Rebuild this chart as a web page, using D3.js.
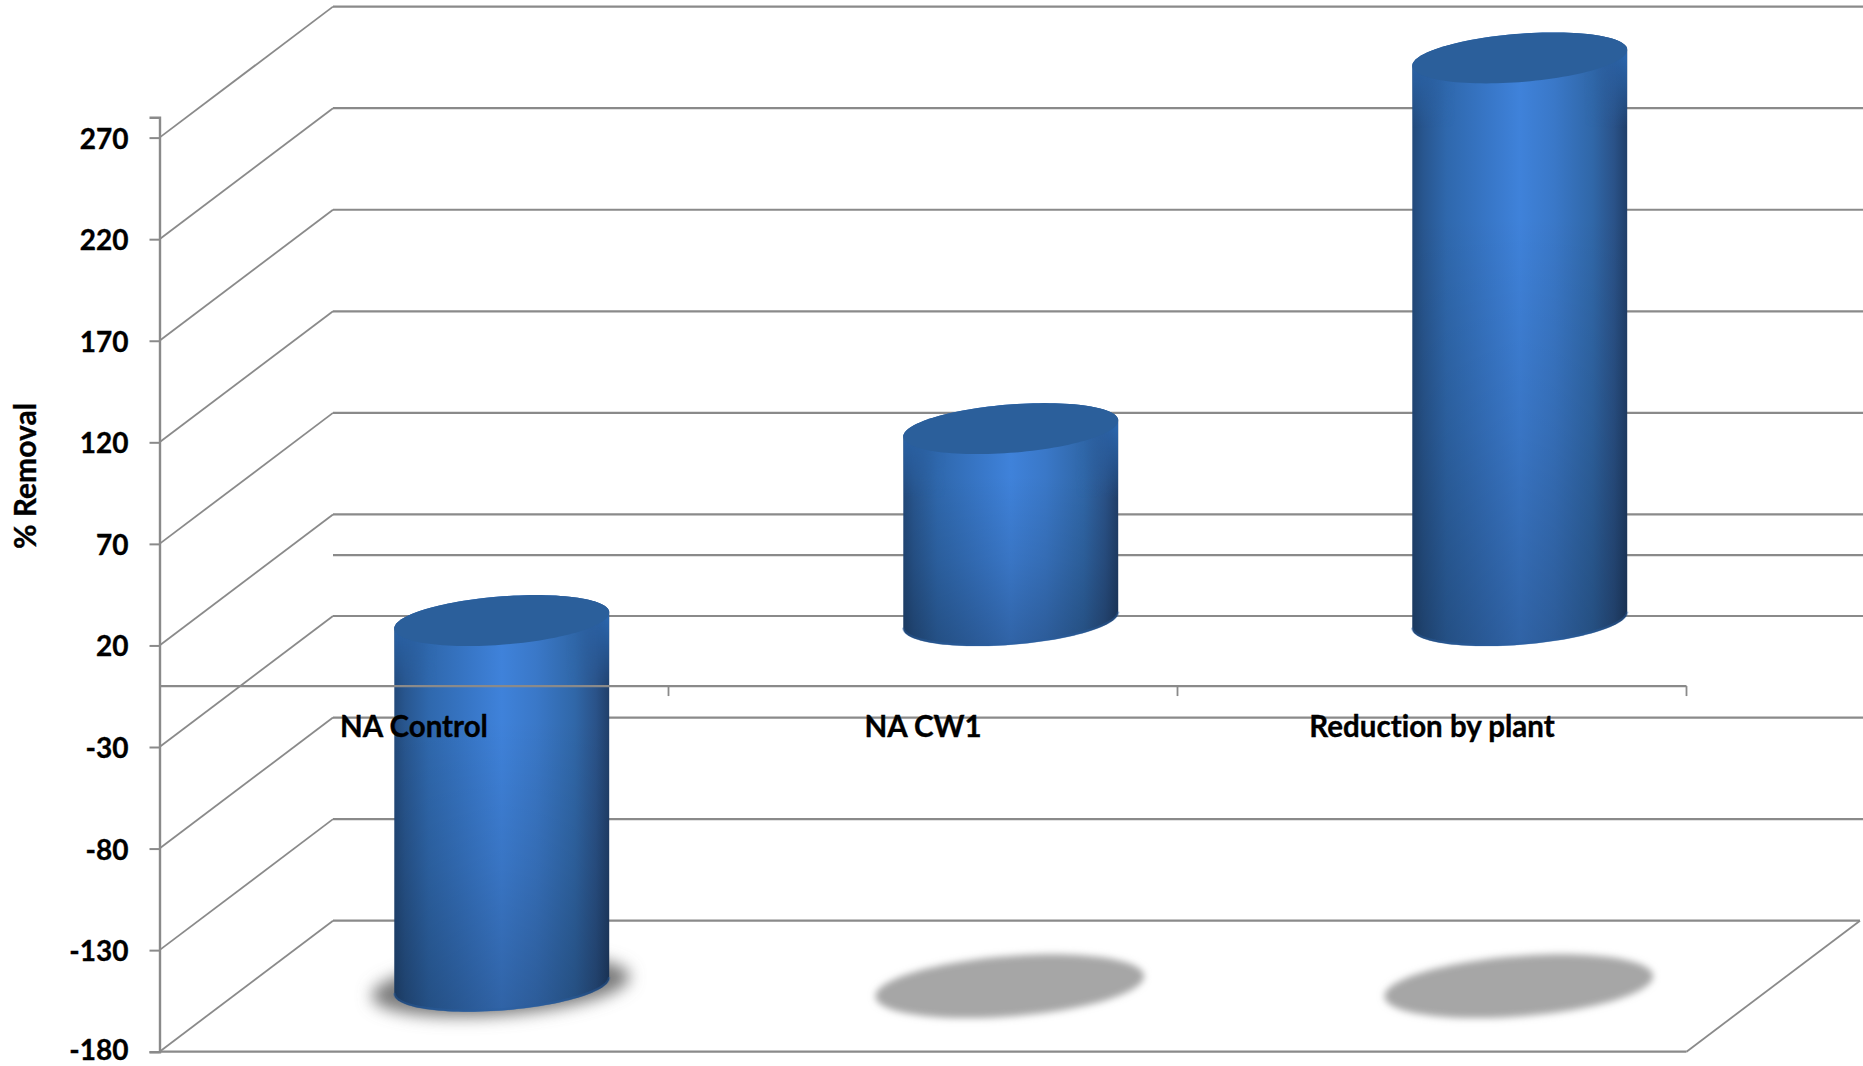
<!DOCTYPE html>
<html>
<head>
<meta charset="utf-8">
<script src="https://cdn.jsdelivr.net/npm/d3@7"></script>
<style>
  html, body { margin: 0; padding: 0; background: #fff; overflow: hidden; }
  text { font-family: Lato, "Open Sans", sans-serif; font-weight: 700; fill: #000; stroke: #000; stroke-width: 0.35; font-variant-ligatures: none; }
  .grid { fill: none; stroke: #8a8a8a; stroke-width: 2.2; }
  .side { fill: none; stroke: #8a8a8a; stroke-width: 1.8; }
</style>
</head>
<body>
<script>
const categories = ["NA Control", "NA CW1", "Reduction by plant"];
const removal = [-180, 94.5, 277];
const yTicks = [270, 220, 170, 120, 70, 20, -30, -80, -130, -180];

const width = 1863, height = 1066;
// how far the back wall is shifted from the front plane
const depthX = 173.5, depthY = 131;
const capH = 25.5, capP = 102;
const capQ = capH * depthX / depthY;
const capT = Math.atan2(capQ, capP);

const svg = d3.select("body").append("svg")
  .attr("width", width)
  .attr("height", height)
  .style("display", "block");

const y = d3.scaleLinear().domain([-180, 280]).range([1051.7, 117.3]);
const x = d3.scaleBand().domain(categories).range([159.5, 1686.5]);

const defs = svg.append("defs");

// round side of the cylinders
const sideGrad = defs.append("linearGradient").attr("id", "side");
[[0, "#22497a"], [0.05, "#28568f"], [0.16, "#2f68ad"], [0.36, "#3877c8"], [0.5, "#3f82da"],
 [0.66, "#3a78c8"], [0.84, "#3067a8"], [0.94, "#2a5288"], [1, "#203f6a"]]
  .forEach(s => sideGrad.append("stop").attr("offset", s[0]).attr("stop-color", s[1]));

const shade = defs.append("linearGradient").attr("id", "shade")
  .attr("x1", 0).attr("x2", 0).attr("y1", 0).attr("y2", 1);
[[0, 0], [0.3, 0], [0.65, 0.1], [1, 0.24]]
  .forEach(s => shade.append("stop").attr("offset", s[0]).attr("stop-color", "#000").attr("stop-opacity", s[1]));

// keeps the rim tint to the left and right edges of a cylinder
const edgeFade = defs.append("linearGradient").attr("id", "edgeFade");
[[0, "#fff"], [0.2, "#000"], [0.8, "#000"], [1, "#fff"]]
  .forEach(s => edgeFade.append("stop").attr("offset", s[0]).attr("stop-color", s[1]));
defs.append("mask").attr("id", "edges")
  .attr("maskContentUnits", "objectBoundingBox")
  .append("rect").attr("width", 1).attr("height", 1).attr("fill", "url(#edgeFade)");

const softFilter = (id, dev) => defs.append("filter").attr("id", id)
  .attr("x", "-20%").attr("y", "-50%").attr("width", "140%").attr("height", "200%")
  .append("feGaussianBlur").attr("stdDeviation", dev);
softFilter("soft", 3.5);
softFilter("softer", 8);

const line = d3.line();

function capPoint(cx, cy, t, k = 1) {
  return [cx + k * (capP * Math.cos(t) + capQ * Math.sin(t)), cy - k * capH * Math.sin(t)];
}

function capPath(cx, cy, k = 1) {
  return line(d3.range(0, 360, 3).map(a => capPoint(cx, cy, a * Math.PI / 180, k))) + "Z";
}

function lowerArc(cx, cyBase) {
  return d3.range(0, 61).map(i => capPoint(cx, cyBase, capT - Math.PI + i * Math.PI / 60));
}

function bodyPath(cx, yTop, yBase) {
  const upper = d3.range(0, 61).map(i => capPoint(cx, yTop, capT + i * Math.PI / 60));
  return line(lowerArc(cx, yBase).concat(upper)) + "Z";
}

const bandMid = c => x(c) + x.bandwidth() / 2;

// back wall
svg.append("g").selectAll("line").data(yTicks).enter().append("line")
  .attr("class", "grid")
  .attr("x1", 159.5 + depthX)
  .attr("x2", d => d === -180 ? 159.5 + depthX + 1527 : width)
  .attr("y1", d => y(d) - depthY)
  .attr("y2", d => y(d) - depthY);

svg.append("line").attr("class", "grid")
  .attr("x1", 159.5 + depthX).attr("x2", width)
  .attr("y1", y(0) - depthY).attr("y2", y(0) - depthY);

// side wall
svg.append("g").selectAll("line").data(yTicks).enter().append("line")
  .attr("class", "side")
  .attr("x1", 159.5).attr("x2", 159.5 + depthX)
  .attr("y1", d => y(d)).attr("y2", d => y(d) - depthY);

// floor edge on the right
svg.append("line").attr("class", "side")
  .attr("x1", 1686.5).attr("x2", 1686.5 + depthX)
  .attr("y1", y(-180)).attr("y2", y(-180) - depthY);

const bar = categories.map((c, i) => ({ c, v: removal[i] }));
const midX = d => bandMid(d.c) + depthX / 2 + 1;
const topY = d => y(Math.max(d.v, 0)) - depthY / 2;
const baseY = d => y(Math.min(d.v, 0)) - depthY / 2;
const onFloor = d => d.v <= -180;

// floor shadows, the one under a cylinder standing on the floor is softer
svg.append("g").selectAll("path").data(bar).enter().append("path")
  .attr("d", d => capPath(midX(d) - 1, y(-180) - depthY / 2, onFloor(d) ? 1.2 : 1.25))
  .attr("fill", d => onFloor(d) ? "#7c7c7c" : "#a6a6a6")
  .attr("filter", d => onFloor(d) ? "url(#softer)" : "url(#soft)");

// cylinders
const bars = svg.append("g").selectAll("g").data(bar).enter().append("g");

bars.append("path")
  .attr("d", d => bodyPath(midX(d), topY(d), baseY(d)))
  .attr("fill", "url(#side)");

bars.append("path")
  .attr("d", d => bodyPath(midX(d), topY(d), baseY(d)))
  .attr("fill", "url(#shade)");

// lighter blue where the side meets the cap
bars.each(function (d, i) {
  const glow = defs.append("linearGradient").attr("id", "glow" + i)
    .attr("gradientUnits", "userSpaceOnUse")
    .attr("x1", 0).attr("x2", 0)
    .attr("y1", topY(d)).attr("y2", topY(d) + 70);
  glow.append("stop").attr("offset", 0).attr("stop-color", "#2b66ad").attr("stop-opacity", 1);
  glow.append("stop").attr("offset", 1).attr("stop-color", "#2b66ad").attr("stop-opacity", 0);
  d3.select(this).append("g").attr("mask", "url(#edges)")
    .append("path")
    .attr("d", bodyPath(midX(d), topY(d), baseY(d)))
    .attr("fill", `url(#glow${i})`);
});

// blue rim along the bottom of each cylinder
bars.append("path")
  .attr("d", d => line(lowerArc(midX(d), baseY(d) - 1)))
  .attr("fill", "none")
  .attr("stroke", "#2a5f9f")
  .attr("stroke-width", 2.5)
  .attr("stroke-opacity", 0.4);

bars.append("path")
  .attr("d", d => capPath(midX(d), topY(d)))
  .attr("fill", "#2b5f9b");

// category axis along the zero plane
const xAxis = svg.append("g").attr("transform", `translate(0,${y(0)})`);
xAxis.append("line").attr("class", "grid")
  .attr("x1", 159.5).attr("x2", 1686.5);
xAxis.selectAll("line.tick").data(categories).enter().append("line")
  .attr("class", "tick side")
  .attr("x1", c => x(c) + x.bandwidth()).attr("x2", c => x(c) + x.bandwidth())
  .attr("y1", 0).attr("y2", 10);

svg.append("g").selectAll("text").data(categories).enter().append("text")
  .attr("x", bandMid)
  .attr("y", y(0) + 51)
  .attr("text-anchor", "middle")
  .attr("font-size", 29.5)
  .text(d => d);

// front floor edge
svg.append("line").attr("class", "grid")
  .attr("x1", 159.5).attr("x2", 1686.5)
  .attr("y1", y(-180)).attr("y2", y(-180));

// value axis
const yAxis = svg.append("g")
  .attr("transform", "translate(159.5,1.5)")
  .call(d3.axisLeft(y).tickValues(yTicks).tickFormat(d => String(d)).tickSize(10).tickPadding(21));
yAxis.select(".domain").attr("stroke", "#8a8a8a").attr("stroke-width", 2.4).attr("transform", "translate(0,-1.5)");
yAxis.selectAll(".tick line").attr("stroke", "#8a8a8a").attr("stroke-width", 2).attr("transform", "translate(0,-1.5)");
yAxis.selectAll(".tick text").attr("font-size", 28).attr("font-family", null);
// the lowest label sits close to the bottom edge of the page
yAxis.selectAll(".tick text").filter(d => d === -180).attr("transform", "translate(0,-2.5)");

svg.append("text")
  .attr("transform", "translate(36,476) rotate(-90)")
  .attr("text-anchor", "middle")
  .attr("font-size", 30)
  .text("% Removal");
</script>
</body>
</html>
